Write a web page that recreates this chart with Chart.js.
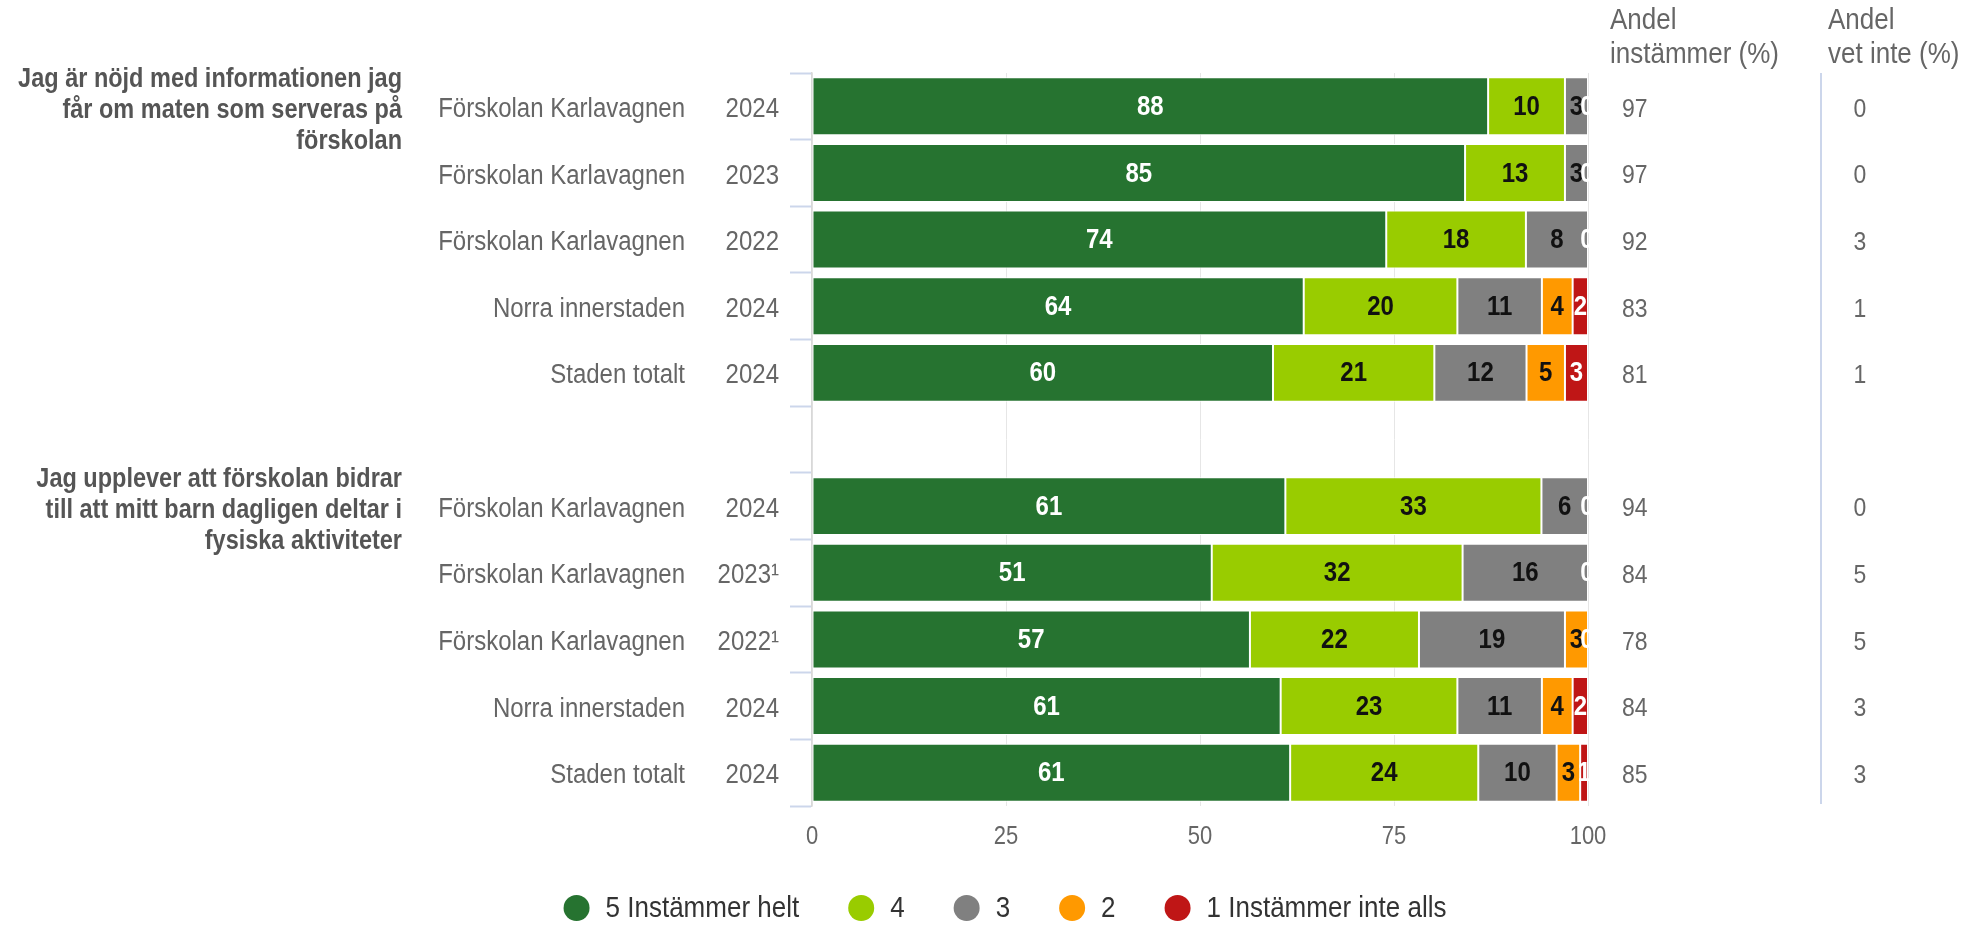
<!DOCTYPE html>
<html>
<head>
<meta charset="utf-8">
<script src="https://cdn.jsdelivr.net/npm/chart.js@4.4.1/dist/chart.umd.min.js"></script>
<style>
  html, body { margin: 0; padding: 0; background: #ffffff; }
  #wrap { width: 1970px; height: 925px; position: relative; }
</style>
</head>
<body>
<div id="wrap"><canvas id="c" width="1970" height="925"></canvas></div>
<script>
const FONT = '"Liberation Sans", Arial, Helvetica, sans-serif';

// ---- data ----
const places = ['Förskolan Karlavagnen', 'Förskolan Karlavagnen', 'Förskolan Karlavagnen', 'Norra innerstaden', 'Staden totalt', '',
                'Förskolan Karlavagnen', 'Förskolan Karlavagnen', 'Förskolan Karlavagnen', 'Norra innerstaden', 'Staden totalt'];
const years = ['2024', '2023', '2022', '2024', '2024', '', '2024', '2023¹', '2022¹', '2024', '2024'];
const questionRows = [0, 6];
const questionLabels = [
  ['Jag är nöjd med informationen jag', 'får om maten som serveras på', 'förskolan'],
  ['Jag upplever att förskolan bidrar', 'till att mitt barn dagligen deltar i', 'fysiska aktiviteter']
];
const seriesNames = ['5 Instämmer helt', '4', '3', '2', '1 Instämmer inte alls'];
const values5 = [88, 85, 74, 64, 60, null, 61, 51, 57, 61, 61];
const values4 = [10, 13, 18, 20, 21, null, 33, 32, 22, 23, 24];
const values3 = [3, 3, 8, 11, 12, null, 6, 16, 19, 11, 10];
const values2 = [null, null, null, 4, 5, null, null, null, 3, 4, 3];
const values1 = [0, 0, 0, 2, 3, null, 0, 0, 0, 2, 1];
const andelInstammer = [97, 97, 92, 83, 81, null, 94, 84, 78, 84, 85];
const andelVetInte = [0, 0, 3, 1, 1, null, 0, 5, 5, 3, 3];
const columnHeaders = [['Andel', 'instämmer (%)'], ['Andel', 'vet inte (%)']];
const xTickValues = [0, 25, 50, 75, 100];

// ---- styles ----
const seriesColors = ['#267330', '#99cc00', '#808080', '#ff9900', '#bf1616'];
const labelColors = ['#ffffff', '#111111', '#111111', '#111111', '#ffffff'];
const seriesValues = [values5, values4, values3, values2, values1];
const SY = 1.15; // vertical text stretch seen in the reference

// percent stacking: each bar is normalised to 100, labels keep the raw values
const rowTotals = places.map((_, i) => seriesValues.reduce((s, arr) => s + (arr[i] || 0), 0));
const percentValues = seriesValues.map(arr => arr.map((v, i) => (v === null || !rowTotals[i]) ? null : v / rowTotals[i] * 100));

function txt(ctx, s, x, y) {
  ctx.save();
  ctx.translate(x, y);
  ctx.scale(1, SY);
  ctx.fillText(s, 0, 0);
  ctx.restore();
}

const overlay = {
  id: 'overlay',
  afterDatasetsDraw(chart) {
    const ctx = chart.ctx;
    const ca = chart.chartArea;
    ctx.save();
    ctx.font = 'bold 24px ' + FONT;
    ctx.textAlign = 'center';
    ctx.textBaseline = 'middle';
    chart.data.datasets.forEach((ds, di) => {
      const meta = chart.getDatasetMeta(di);
      ctx.fillStyle = labelColors[di];
      meta.data.forEach((el, i) => {
        const v = seriesValues[di][i];
        if (v === null || v === undefined) return;
        const p = el.getProps(['x', 'base', 'y'], true);
        const lo = Math.min(Math.max(Math.min(p.x, p.base), ca.left), ca.right);
        const hi = Math.min(Math.max(p.x, p.base), ca.right);
        let cx = (lo + hi) / 2;
        if (hi - lo < 1) cx = Math.min(p.x, ca.right) - 1;
        txt(ctx, String(v), cx, p.y + 1);
      });
    });
    ctx.restore();
  },
  afterDraw(chart) {
    const ctx = chart.ctx;
    const ys = chart.scales.y;
    const xs = chart.scales.x;
    const ca = chart.chartArea;
    ctx.save();
    ctx.textBaseline = 'middle';

    // x tick labels
    ctx.font = '22px ' + FONT;
    ctx.fillStyle = '#666666';
    ctx.textAlign = 'center';
    xTickValues.forEach(v => txt(ctx, String(v), xs.getPixelForValue(v), 837));

    // category labels (place + year)
    ctx.font = '24px ' + FONT;
    ctx.fillStyle = '#666666';
    ctx.textAlign = 'right';
    places.forEach((p, i) => {
      const y = ys.getPixelForValue(i) + 3;
      txt(ctx, p, 685, y);
      txt(ctx, years[i], 779, y);
    });

    // question labels
    ctx.font = 'bold 23.5px ' + FONT;
    ctx.fillStyle = '#555555';
    ctx.textAlign = 'right';
    questionRows.forEach((r, qi) => {
      const yc = ys.getPixelForValue(r) + 4;
      questionLabels[qi].forEach((line, li) => {
        txt(ctx, line, 402, yc + (li - 1) * 31);
      });
    });

    // right columns
    ctx.strokeStyle = '#ccd6eb';
    ctx.lineWidth = 2;
    ctx.beginPath();
    ctx.moveTo(1821, ca.top);
    ctx.lineTo(1821, ca.bottom - 2);
    ctx.stroke();

    ctx.font = '26px ' + FONT;
    ctx.fillStyle = '#666666';
    ctx.textAlign = 'left';
    const headerX = [1610, 1828];
    columnHeaders.forEach((h, hi) => {
      h.forEach((line, li) => txt(ctx, line, headerX[hi], 21 + li * 34));
    });

    ctx.font = '23px ' + FONT;
    andelInstammer.forEach((v, i) => {
      if (v === null) return;
      const y = ys.getPixelForValue(i) + 3;
      ctx.textAlign = 'left';
      txt(ctx, String(v), 1622, y);
      ctx.textAlign = 'center';
      txt(ctx, String(andelVetInte[i]), 1860, y);
    });

    // legend
    ctx.font = '26px ' + FONT;
    const r = 13, gapText = 16, gapItem = 49;
    const widths = seriesNames.map(n => ctx.measureText(n).width);
    let total = 0;
    widths.forEach((w, i) => { total += 2 * r + gapText + w + (i > 0 ? gapItem : 0); });
    let x = 1005 - total / 2;
    const ly = 908;
    seriesNames.forEach((n, i) => {
      ctx.fillStyle = seriesColors[i];
      ctx.beginPath();
      ctx.arc(x + r, ly, r, 0, Math.PI * 2);
      ctx.fill();
      ctx.fillStyle = '#333333';
      ctx.textAlign = 'left';
      txt(ctx, n, x + 2 * r + gapText, ly + 1);
      x += 2 * r + gapText + widths[i] + gapItem;
    });
    ctx.restore();
  }
};

const datasets = percentValues.map((vals, i) => ({
  label: seriesNames[i],
  data: vals,
  backgroundColor: seriesColors[i],
  borderColor: '#ffffff',
  borderWidth: 1,
  borderSkipped: false,
  categoryPercentage: 1.0,
  barPercentage: 0.87
}));

new Chart(document.getElementById('c'), {
  type: 'bar',
  data: { labels: places.map((p, i) => p + ' ' + years[i]), datasets },
  options: {
    indexAxis: 'y',
    responsive: false,
    animation: false,
    devicePixelRatio: 1,
    layout: { padding: { top: 73, left: 0, right: 382, bottom: 0 } },
    plugins: { legend: { display: false }, tooltip: { enabled: false }, title: { display: false } },
    scales: {
      x: {
        stacked: true,
        min: 0,
        max: 100,
        afterBuildTicks: (s) => { s.ticks = xTickValues.map(v => ({ value: v })); },
        afterFit: (s) => { s.height = 119; },
        grid: { color: '#e6e6e6', lineWidth: 1, drawTicks: false },
        border: { display: false },
        ticks: { display: false }
      },
      y: {
        stacked: true,
        afterFit: (s) => { s.width = 812; },
        grid: { drawOnChartArea: false, drawTicks: true, tickLength: 22, tickColor: '#ccd6eb', tickWidth: 2, offset: true },
        border: { display: true, color: '#d8d8d8', width: 1.5 },
        ticks: { display: false }
      }
    }
  },
  plugins: [overlay]
});
</script>
</body>
</html>
